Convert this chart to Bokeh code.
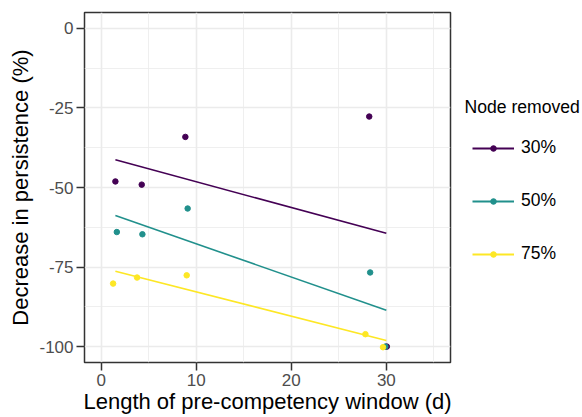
from bokeh.plotting import figure
from bokeh.layouts import row
from bokeh.models import Range1d, FixedTicker, Legend, LegendItem, Label
from bokeh.embed import file_html
from bokeh.resources import INLINE

# ---- data ----
series = ["30%", "50%", "75%"]
colors = ["#440154", "#21908C", "#FDE725"]

x30 = [1.5, 4.27, 8.86, 28.2, 30.05]
y30 = [-48.1, -49.1, -34.1, -27.7, -100.0]
x50 = [1.65, 4.34, 9.1, 28.3, 29.9]
y50 = [-64.0, -64.7, -56.6, -76.7, -100.0]
x75 = [1.26, 3.78, 9.0, 27.8, 29.65]
y75 = [-80.2, -78.3, -77.6, -96.1, -100.2]

fit_x = [1.5, 30.0]
fit30 = [-41.3, -64.4]
fit50 = [-58.8, -88.6]
fit75 = [-76.3, -98.1]

x_ticks = [0, 10, 20, 30]
x_minor = [5, 15, 25, 35]
y_ticks = [-100, -75, -50, -25, 0]
y_labels = ["-100", "-75", "-50", "-25", "0"]
y_minor = [-87.5, -62.5, -37.5, -12.5]

x_title = "Length of pre-competency window (d)"
y_title = "Decrease in persistence (%)"
legend_title = "Node removed"

FONT = "Liberation Sans"

p = figure(width=452, height=417, output_backend="svg", toolbar_location=None,
           x_range=Range1d(-1.75, 36.75), y_range=Range1d(-105, 5),
           min_border_left=84, min_border_right=2, min_border_top=12,
           min_border_bottom=55)
p.background_fill_color = "white"
p.border_fill_color = "white"
p.outline_line_color = "#333333"
p.outline_line_width = 1.5

series_x = [x30, x50, x75]
series_y = [y30, y50, y75]
fits = [fit30, fit50, fit75]

for xs, ys, c in zip(series_x, series_y, colors):
    p.scatter(xs, ys, size=5.5, color=c)
for fy, c in zip(fits, colors):
    p.line(fit_x, fy, line_width=1.6, color=c)

for ax, tk, mn in [(p.xaxis[0], x_ticks, x_minor), (p.yaxis[0], y_ticks, y_minor)]:
    ax.ticker = FixedTicker(ticks=tk, minor_ticks=mn)
    ax.axis_line_color = None
    ax.major_tick_line_color = "#333333"
    ax.major_tick_line_width = 1.5
    ax.major_tick_out = 8
    ax.major_tick_in = 0
    ax.minor_tick_line_color = None
    ax.major_label_text_font = FONT
    ax.major_label_text_font_size = "17px"
    ax.major_label_text_color = "#4D4D4D"
    ax.axis_label_text_font = FONT
    ax.axis_label_text_font_size = "22px"
    ax.axis_label_text_font_style = "normal"
    ax.axis_label_text_color = "black"

p.yaxis.major_label_overrides = {t: s for t, s in zip(y_ticks, y_labels)}
p.xaxis.major_label_standoff = 3
p.xaxis.axis_label_standoff = 0
p.yaxis.major_label_standoff = 3
p.yaxis.axis_label_standoff = 3
p.xaxis.axis_label = x_title
p.yaxis.axis_label = y_title

for g in [p.xgrid[0], p.ygrid[0]]:
    g.grid_line_color = "#EBEBEB"
    g.grid_line_width = 1.6
    g.minor_grid_line_color = "#EBEBEB"
    g.minor_grid_line_width = 0.8

# ---- legend panel (its frame is aligned with the main frame by the row) ----
q = figure(width=130, height=417, output_backend="svg", toolbar_location=None,
           x_range=Range1d(100, 101), y_range=Range1d(100, 101),
           x_axis_location=None, y_axis_location=None, min_border=0)
q.outline_line_color = None
q.background_fill_color = "white"
q.border_fill_color = "white"
q.xgrid.visible = False
q.ygrid.visible = False
q.grid.visible = False

items = []
for s, xs, ys, fy, c in zip(series, series_x, series_y, fits, colors):
    ln = q.line(fit_x, fy, line_width=2, color=c)
    pt = q.scatter(xs, ys, size=5.5, color=c)
    items.append(LegendItem(label=s, renderers=[ln, pt]))

legend = Legend(items=items, location=(20, 98))
legend.padding = 0
legend.margin = 0
legend.border_line_color = None
legend.background_fill_alpha = 0
legend.glyph_width = 42
legend.glyph_height = 14
legend.label_height = 20
legend.label_standoff = 7
legend.spacing = 32
legend.label_text_font = FONT
legend.label_text_font_size = "17.5px"
legend.label_text_color = "black"
q.add_layout(legend, "center")

q.add_layout(Label(x=12, y=256, x_units="screen", y_units="screen",
                   text=legend_title, text_font=FONT, text_font_size="17.6px",
                   text_baseline="middle", text_color="black"))

open("out.html", "w").write(file_html(row(p, q), INLINE))
